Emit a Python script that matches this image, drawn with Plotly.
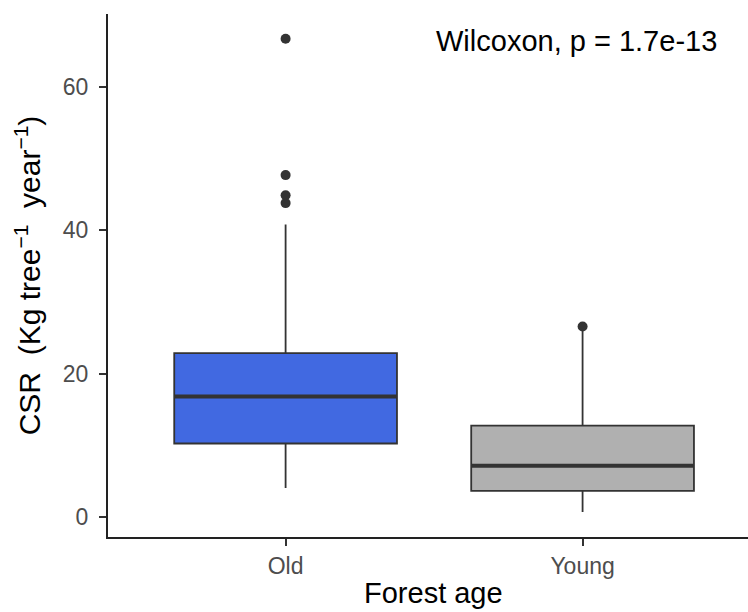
import plotly.graph_objects as go

# Forest age groups and CSR summary statistics (Kg tree^-1 year^-1)
groups = ["Old", "Young"]
lower_whisker = [4.1, 0.75]
q1 = [10.3, 3.7]
median = [16.85, 7.2]
q3 = [22.9, 12.8]
upper_whisker = [40.8, 26.1]
outliers_old = [43.8, 44.9, 47.7, 66.7]
outliers_young = [26.6]

fill_colors = ["#4169E1", "#B0B0B0"]
edge = "#333333"
box_width = 0.75
pos = list(range(len(groups)))

FONT = "Liberation Sans, Arial"

fig = go.Figure()

for i, g in enumerate(groups):
    fig.add_trace(go.Box(
        x=[pos[i]],
        q1=[q1[i]], median=[median[i]], q3=[q3[i]],
        lowerfence=[lower_whisker[i]], upperfence=[upper_whisker[i]],
        width=box_width, whiskerwidth=0,
        fillcolor=fill_colors[i],
        line=dict(color=edge, width=1.8),
        boxpoints=False, name=g, showlegend=False, hoverinfo="skip",
    ))
    # thicker median bar
    fig.add_trace(go.Scatter(
        x=[pos[i] - box_width / 2, pos[i] + box_width / 2],
        y=[median[i], median[i]],
        mode="lines", line=dict(color=edge, width=3.8),
        showlegend=False, hoverinfo="skip",
    ))

out_x = [pos[0]] * len(outliers_old) + [pos[1]] * len(outliers_young)
out_y = outliers_old + outliers_young
fig.add_trace(go.Scatter(
    x=out_x, y=out_y, mode="markers",
    marker=dict(color=edge, size=10, line=dict(width=0)),
    showlegend=False, hoverinfo="skip",
))

fig.add_annotation(
    x=0.98, y=66.4, xref="x", yref="y",
    text="Wilcoxon, p = 1.7e-13", showarrow=False,
    font=dict(family=FONT, size=29, color="#000000"),
)

# x-axis title, centred on the full panel width
fig.add_annotation(
    x=0.509, y=0, xref="paper", yref="paper", yshift=-38,
    xanchor="center", yanchor="top",
    text="Forest age", showarrow=False,
    font=dict(family=FONT, size=29, color="#000000"),
)

axis_font = dict(family=FONT, size=23, color="#4D4D4D")
title_font = dict(family=FONT, size=30, color="#000000")

fig.update_layout(
    width=748, height=612,
    margin=dict(l=108, r=0, t=14, b=75),
    plot_bgcolor="white", paper_bgcolor="white",
    xaxis=dict(
        range=[-0.598, 1.557], tickmode="array", tickvals=pos, ticktext=groups,
        showgrid=False, zeroline=False, showline=True, linecolor="#222222", linewidth=2,
        ticks="outside", ticklen=7, tickcolor="#333333", tickwidth=1.8,
        tickfont=axis_font, ticklabelstandoff=0,
    ),
    yaxis=dict(
        range=[-2.73, 70.15], tickvals=[0, 20, 40, 60],
        showgrid=False, zeroline=False, showline=True, linecolor="#222222", linewidth=2,
        ticks="outside", ticklen=7, tickcolor="#333333", tickwidth=1.8,
        tickfont=axis_font, ticklabelstandoff=6,
        title=dict(text="CSR  (Kg tree<sup>\u22121</sup>  year<sup>\u22121</sup>)",
                   font=title_font, standoff=13),
    ),
)

fig.write_html("out.html")
